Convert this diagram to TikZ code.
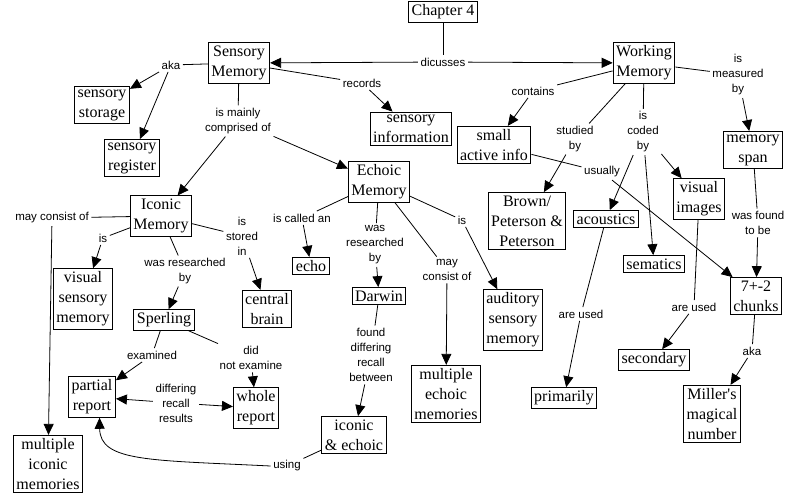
\documentclass[tikz,border=0pt]{standalone}
\usepackage{fontspec}
\setmainfont{Liberation Serif}[Ligatures=TeXOff]
\newfontfamily\lblfont{Liberation Sans}
\usetikzlibrary{arrows.meta}
\begin{document}
\begin{tikzpicture}[x=1pt,y=-1pt,
 box/.style={draw, line width=1pt, align=center, font=\fontsize{16}{20}\selectfont, inner xsep=3pt, inner ysep=3pt},
 lbl/.style={align=center, font=\lblfont\fontsize{11.5}{15}\selectfont, inner sep=2.5pt},
 ln/.style={draw, line width=0.8pt},
 arr/.style={ln, -{Triangle[length=11pt,width=10pt]}}]
\useasboundingbox (0,0) rectangle (797,496);
% concept boxes
\node[box] (ch) at (443,12) {Chapter 4};
\node[box] (sm) at (239,63) {Sensory\\Memory};
\node[box] (wm) at (644,63) {Working\\Memory};
\node[box] (ss) at (102,105) {sensory\\storage};
\node[box] (sr) at (132,158) {sensory\\register};
\node[box] (si) at (411,129) {sensory\\information};
\node[box] (sai) at (494,145) {small\\active info};
\node[box] (ms) at (753,150) {memory\\span};
\node[box] (em) at (379,182) {Echoic\\Memory};
\node[box] (im) at (161,216) {Iconic\\Memory};
\node[box] (bpp) at (527,221) {Brown/\\Peterson \&\\Peterson};
\node[box] (ac) at (606,219) {acoustics};
\node[box] (vi) at (699,199) {visual\\images};
\node[box] (se) at (654,264) {sematics};
\node[box] (chk) at (756,296) {7+-2\\chunks};
\node[box] (vsm) at (83,299) {visual\\sensory\\memory};
\node[box] (echo) at (311,266) {echo};
\node[box] (cb) at (267,309) {central\\brain};
\node[box] (dw) at (379,296) {Darwin};
\node[box] (sp) at (164,320) {Sperling};
\node[box] (asm) at (513,320) {auditory\\sensory\\memory};
\node[box] (pr) at (92,397) {partial\\report};
\node[box] (wr) at (256,408) {whole\\report};
\node[box] (mem) at (446,394) {multiple\\echoic\\memories};
\node[box] (pri) at (564,398) {primarily};
\node[box] (sec) at (654,360) {secondary};
\node[box] (mmn) at (712,414) {Miller's\\magical\\number};
\node[box] (ie) at (354,435) {iconic\\\& echoic};
\node[box] (mim) at (48,464) {multiple\\iconic\\memories};
% link labels
\node[lbl] (disc) at (443,62) {dicusses};
\node[lbl] (aka1) at (171,65) {aka};
\node[lbl] (rec) at (362,83) {records};
\node[lbl] (imc) at (238,121) {is mainly\\comprised of};
\node[lbl] (cont) at (533,91) {contains};
\node[lbl] (stud) at (575,139) {studied\\by};
\node[lbl] (icb) at (643,132) {is\\coded\\by};
\node[lbl] (imb) at (738,75) {is\\measured\\by};
\node[lbl] (us) at (602,172) {usually};
\node[lbl] (wfb) at (758,223) {was found\\to be};
\node[lbl] (mco1) at (52,218) {may consist of};
\node[lbl] (is1) at (103,238) {is};
\node[lbl] (isi) at (242,236) {is\\stored\\in};
\node[lbl] (ica) at (302,218) {is called an};
\node[lbl] (wrb2) at (375,245) {was\\researched\\by};
\node[lbl] (is2) at (462,220) {is};
\node[lbl] (mco2) at (447,270) {may\\consist of};
\node[lbl] (wrb1) at (185,271) {was researched\\by};
\node[lbl] (exa) at (152,355) {examined};
\node[lbl] (dne) at (251,358) {did\\not examine};
\node[lbl] (drr) at (176,403) {differing\\recall\\results};
\node[lbl] (fdr) at (371,355) {found\\differing\\recall\\between};
\node[lbl] (using) at (287,466) {using};
\node[lbl] (au1) at (581,314) {are used};
\node[lbl] (au2) at (694,307) {are used};
\node[lbl] (aka2) at (752,351) {aka};
% connectors
\draw[ln] (ch) -- (disc);
\draw[arr] (disc) -- (sm);
\draw[arr] (disc) -- (wm);
\draw[ln] (sm) -- (aka1);
\draw[arr] (aka1) -- (ss);
\draw[arr] (aka1) -- (sr);
\draw[ln] (sm) -- (rec);
\draw[arr] (rec) -- (si);
\draw[ln] (sm) -- (imc);
\draw[arr] (imc) -- (im);
\draw[arr] (imc) -- (em);
\draw[ln] (wm) -- (cont);
\draw[arr] (cont) -- (sai);
\draw[ln] (wm) -- (stud);
\draw[arr] (stud) -- (bpp);
\draw[ln] (wm) -- (icb);
\draw[arr] (icb) -- (ac);
\draw[arr] (icb) -- (se);
\draw[arr] (icb) -- (vi);
\draw[ln] (wm) -- (imb);
\draw[arr] (imb) -- (ms);
\draw[ln] (ms) -- (wfb);
\draw[arr] (wfb) -- (chk);
\draw[ln] (sai) -- (us);
\draw[arr] (us) -- (chk);
\draw[ln] (im) -- (mco1);
\draw[arr] (mco1) -- (mim);
\draw[ln] (im) -- (is1);
\draw[arr] (is1) -- (vsm);
\draw[ln] (im) -- (isi);
\draw[arr] (isi) -- (cb);
\draw[ln] (im) -- (wrb1);
\draw[arr] (wrb1) -- (sp);
\draw[ln] (em) -- (ica);
\draw[arr] (ica) -- (echo);
\draw[ln] (em) -- (wrb2);
\draw[arr] (wrb2) -- (dw);
\draw[ln] (em) -- (mco2);
\draw[arr] (mco2) -- (mem);
\draw[ln] (em) -- (is2);
\draw[arr] (is2) -- (asm);
\draw[ln] (sp) -- (exa);
\draw[arr] (exa) -- (pr);
\draw[ln] (sp) -- (dne);
\draw[arr] (dne) -- (wr);
\draw[arr] (drr) -- (pr);
\draw[arr] (drr) -- (wr);
\draw[ln] (dw) -- (fdr);
\draw[arr] (fdr) -- (ie);
\draw[ln] (ie) -- (using);
\draw[arr] (using.west) .. controls (150,460) and (100,462) .. (pr.290);
\draw[ln] (ac) -- (au1);
\draw[arr] (au1) -- (pri);
\draw[ln] (vi) -- (au2);
\draw[arr] (au2) -- (sec);
\draw[ln] (chk) -- (aka2);
\draw[arr] (aka2) -- (mmn);
\end{tikzpicture}
\end{document}
